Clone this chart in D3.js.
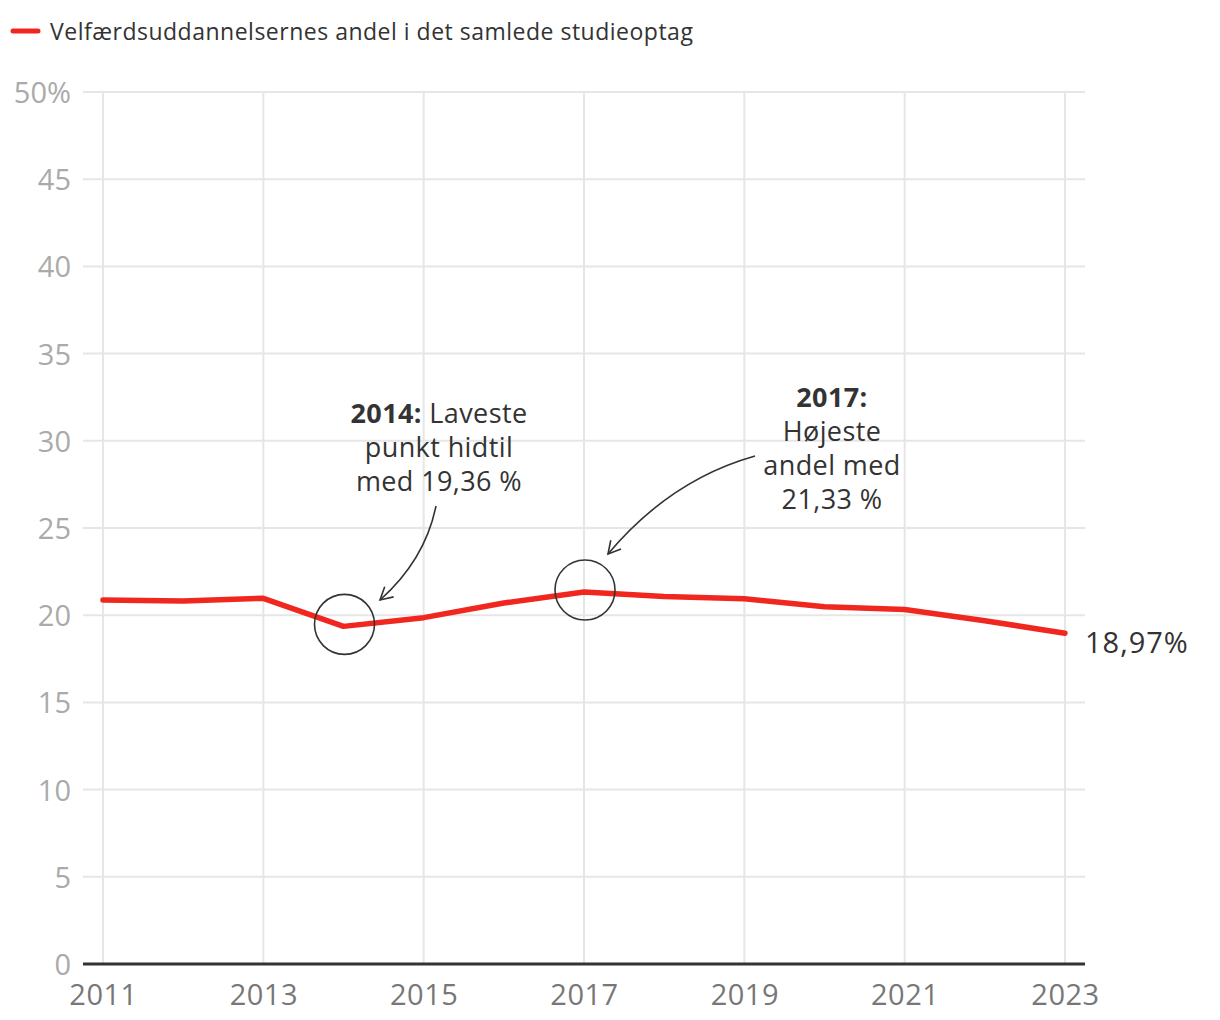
<!DOCTYPE html>
<html><head><meta charset="utf-8">
<script src="https://cdn.jsdelivr.net/npm/d3@7"></script>
<style>body{margin:0;background:#fff}svg{display:block}text{font-family:"Open Sans",sans-serif}</style>
</head><body><svg id="c" width="1220" height="1020"></svg>
<script>
const years = [2011,2012,2013,2014,2015,2016,2017,2018,2019,2020,2021,2022,2023];
const values = [20.87,20.81,20.97,19.36,19.86,20.70,21.33,21.07,20.94,20.49,20.33,19.68,18.97];
const xTicks = [2011,2013,2015,2017,2019,2021,2023];
const yTicks = [0,5,10,15,20,25,30,35,40,45,50];
const seriesName = "Velfærdsuddannelsernes andel i det samlede studieoptag";
const endLabel = "18,97%";
const notes = [
  {year:2014, value:19.36, lines:[["2014:"," Laveste"],["","punkt hidtil"],["","med 19,36 %"]]},
  {year:2017, value:21.33, lines:[["2017:",""],["","Højeste"],["","andel med"],["","21,33 %"]]}
];

const svg = d3.select("#c");
const x = d3.scaleLinear().domain([2011,2023]).range([103,1065]);
const y = d3.scaleLinear().domain([0,50]).range([964,92]);
const red = "#f0271f", dark = "#333";

// legend
svg.append("line").attr("x1",13).attr("x2",38).attr("y1",31).attr("y2",31)
  .attr("stroke",red).attr("stroke-width",5).attr("stroke-linecap","round");
svg.append("text").attr("x",50).attr("y",40).attr("font-size",23).attr("letter-spacing",0.5)
  .attr("fill",dark).text(seriesName);

// grid
const g = svg.append("g");
g.selectAll(".hg").data(yTicks.filter(d=>d>0)).join("line")
  .attr("x1",83).attr("x2",1085).attr("y1",d=>y(d)).attr("y2",d=>y(d))
  .attr("stroke","#e6e6e6").attr("stroke-width",2);
g.selectAll(".vg").data(xTicks).join("line")
  .attr("x1",d=>x(d)).attr("x2",d=>x(d)).attr("y1",y(50)).attr("y2",y(0))
  .attr("stroke","#e6e6e6").attr("stroke-width",2);

// y labels
const yAxis = d3.axisLeft(y).tickValues(yTicks).tickSize(0).tickPadding(0)
  .tickFormat(d=>d===50?"50%":String(d));
const ya = svg.append("g").attr("transform","translate(71,0)").call(yAxis);
ya.select(".domain").remove();
ya.selectAll("text").attr("font-size",29).attr("fill","#aaa").attr("font-family","Open Sans").attr("dy","0.36em");

// x axis
const xAxis = d3.axisBottom(x).tickValues(xTicks).tickSize(0).tickPadding(20).tickFormat(d3.format("d"));
const xa = svg.append("g").attr("transform",`translate(0,${y(0)})`).call(xAxis);
xa.select(".domain").remove();
xa.selectAll("text").attr("font-size",29).attr("letter-spacing",0.5).attr("fill","#777").attr("font-family","Open Sans");
svg.append("line").attr("x1",83).attr("x2",1085).attr("y1",y(0)).attr("y2",y(0))
  .attr("stroke",dark).attr("stroke-width",3);

// line
const data = years.map((yr,i)=>({yr,v:values[i]}));
svg.append("path").datum(data)
  .attr("d",d3.line().x(d=>x(d.yr)).y(d=>y(d.v)))
  .attr("fill","none").attr("stroke",red).attr("stroke-width",5.5)
  .attr("stroke-linecap","round").attr("stroke-linejoin","round");

svg.append("text").attr("x",x(2023)+20).attr("y",y(18.97)+19.5).attr("font-size",29)
  .attr("letter-spacing",1).attr("fill",dark).text(endLabel);

// circles
notes.forEach(n=>{
  svg.append("circle").attr("cx",x(n.year)+1).attr("cy",y(n.value)-2).attr("r",30)
    .attr("fill","none").attr("stroke",dark).attr("stroke-width",1.6);
});
// text
function block(cx, top, lines){
  const t = svg.append("text").attr("text-anchor","middle").attr("font-size",27)
    .attr("letter-spacing",0.4).attr("fill",dark);
  lines.forEach((l,i)=>{
    const ts = t.append("tspan").attr("x",cx).attr("y",top+i*34);
    if(l[0]) ts.append("tspan").attr("font-weight","bold").text(l[0]);
    if(l[1]) ts.append("tspan").text(l[1]);
  });
}
block(439, 423, notes[0].lines);
block(832, 407, notes[1].lines);

// arrows
function arrow(p0, c, p1){
  svg.append("path").attr("d",`M${p0[0]},${p0[1]} Q${c[0]},${c[1]} ${p1[0]},${p1[1]}`)
    .attr("fill","none").attr("stroke",dark).attr("stroke-width",1.6);
  const ang = Math.atan2(p1[1]-c[1], p1[0]-c[0]);
  const L=14, a=0.5;
  const h1=[p1[0]-L*Math.cos(ang-a), p1[1]-L*Math.sin(ang-a)];
  const h2=[p1[0]-L*Math.cos(ang+a), p1[1]-L*Math.sin(ang+a)];
  svg.append("path").attr("d",`M${h1[0]},${h1[1]} L${p1[0]},${p1[1]} L${h2[0]},${h2[1]}`)
    .attr("fill","none").attr("stroke",dark).attr("stroke-width",1.6);
}
arrow([436,506],[425,560],[380,600]);
arrow([755,456],[670,480],[608,554]);
</script></body></html>
